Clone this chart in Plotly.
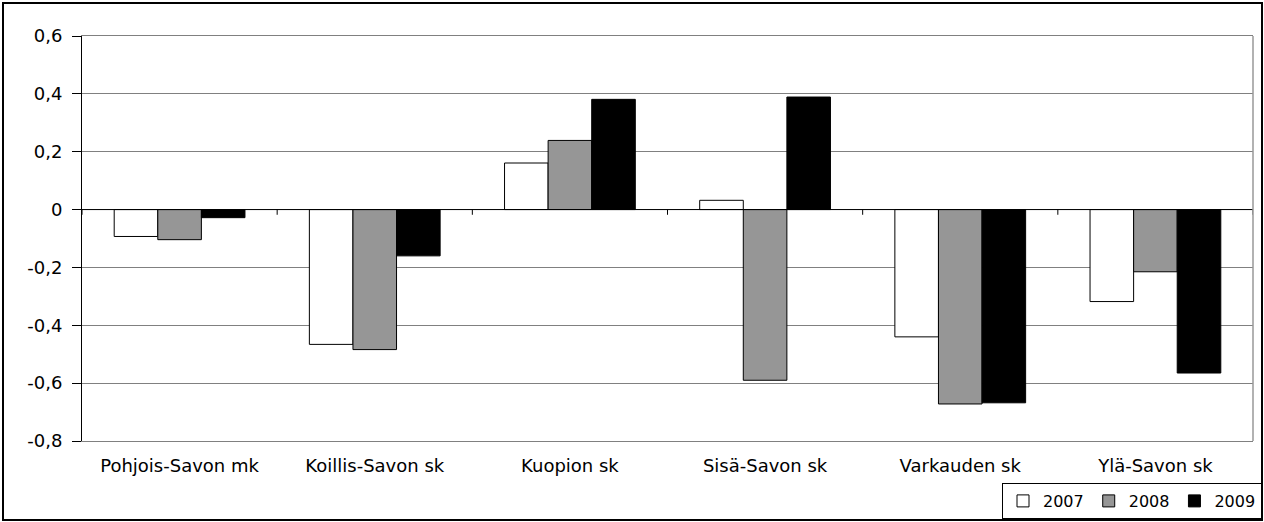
import plotly.graph_objects as go

categories = ["Pohjois-Savon mk", "Koillis-Savon sk", "Kuopion sk", "Sisä-Savon sk", "Varkauden sk", "Ylä-Savon sk"]
series_names = ["2007", "2008", "2009"]
v2007 = [-0.093, -0.466, 0.161, 0.032, -0.44, -0.318]
v2008 = [-0.104, -0.484, 0.239, -0.59, -0.672, -0.215]
v2009 = [-0.028, -0.16, 0.381, 0.389, -0.668, -0.565]
tick_vals = [-0.8, -0.6, -0.4, -0.2, 0, 0.2, 0.4, 0.6]
tick_text = ["-0,8", "-0,6", "-0,4", "-0,2", "0", "0,2", "0,4", "0,6"]

colors = ["#ffffff", "#969696", "#000000"]
values = [v2007, v2008, v2009]

W, H = 1264, 522
ml, mr, mt, mb = 82, 11, 36, 81
pw, ph = W - ml - mr, H - mt - mb
FONT = "DejaVu Sans, Liberation Sans, Arial, sans-serif"

fig = go.Figure()
for name, vals, col in zip(series_names, values, colors):
    fig.add_trace(go.Bar(
        x=categories, y=vals, name=name,
        marker=dict(color=col, line=dict(color="#000000", width=1)),
    ))

shapes = []
# zero line
shapes.append(dict(type="line", xref="paper", yref="y", x0=0, x1=1, y0=0, y1=0,
                   line=dict(color="#000000", width=1), layer="above"))
# category tick marks on zero line
for i in range(len(categories) + 1):
    shapes.append(dict(type="line", xref="x", yref="y", x0=i - 0.5, x1=i - 0.5,
                       y0=0, y1=-0.018, line=dict(color="#000000", width=1), layer="above"))
# right border of plot area
shapes.append(dict(type="line", xref="paper", yref="paper", x0=1, x1=1, y0=0, y1=1,
                   line=dict(color="#999999", width=1.5)))
# outer chart border
shapes.append(dict(type="rect", xref="paper", yref="paper",
                   x0=(3 - ml) / pw, x1=(W - 2 - ml) / pw,
                   y0=-(mb - 2) / ph, y1=1 + (mt - 3) / ph,
                   line=dict(color="#000000", width=2), fillcolor="rgba(0,0,0,0)"))

fig.update_layout(
    width=W, height=H,
    margin=dict(l=ml, r=mr, t=mt, b=mb, autoexpand=False),
    paper_bgcolor="#ffffff", plot_bgcolor="#ffffff",
    font=dict(family=FONT, size=18, color="#000000"),
    barmode="group", bargap=0.33, bargroupgap=0,
    showlegend=True,
    legend=dict(orientation="h", x=1 + 9 / pw, xanchor="right", y=-(mb - 3) / ph, yanchor="bottom",
                bordercolor="#000000", borderwidth=1, bgcolor="#ffffff",
                font=dict(size=16, family=FONT), itemwidth=30, tracegroupgap=0),
    shapes=shapes,
    xaxis=dict(type="category", range=[-0.5, len(categories) - 0.5], showgrid=False,
               showline=True, linecolor="#808080", linewidth=1, mirror=True,
               ticks="", zeroline=False, ticklabelstandoff=8,
               tickfont=dict(size=18, family=FONT)),
    yaxis=dict(range=[-0.8, 0.6], tickvals=tick_vals, ticktext=tick_text,
               showgrid=True, gridcolor="#808080", gridwidth=1,
               showline=True, linecolor="#000000", linewidth=1,
               ticks="outside", ticklen=9, tickcolor="#000000",
               ticklabelstandoff=6,
               zeroline=False, tickfont=dict(size=18, family=FONT)),
)

fig.write_html("out.html", config={"displayModeBar": False},
               post_script="document.body.style.margin='0';document.body.style.overflow='hidden';")
